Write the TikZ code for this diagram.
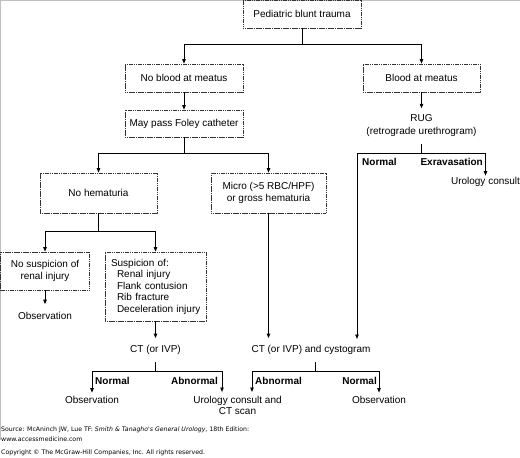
\documentclass[tikz,border=0pt]{standalone}
\usepackage{fontspec}
\setmainfont{Liberation Sans}
\newfontfamily\footfont{DejaVu Sans}
\usetikzlibrary{arrows.meta}
\begin{document}
\begin{tikzpicture}[x=1pt,y=-1pt,
  every node/.style={font=\fontsize{10}{11.5}\selectfont},
  box/.style={draw=black!80, dash pattern=on 1.3pt off 0.5pt, line width=0.7pt, inner sep=0pt, minimum height=28pt, align=center},
  plain/.style={inner xsep=1pt, align=center},
  lbl/.style={font=\fontsize{10}{11.5}\selectfont\bfseries, inner sep=0pt},
  conn/.style={draw=black, line width=0.9pt},
  arr/.style={conn, -{Triangle[length=4.5pt,width=3.5pt]}},
  foot/.style={font=\footfont\fontsize{6.2}{7}\selectfont, inner sep=0pt, anchor=west},
]
\useasboundingbox (0,0) rectangle (520,458);
\fill[white] (0,0) rectangle (520,458);
\draw[black!25, line width=1pt] (0,0.5) -- (520,0.5);
\draw[black!25, line width=1pt] (0.5,0) -- (0.5,440);

% boxes
\node[box, minimum width=118pt] (ped) at (302,14) {Pediatric blunt trauma};
\node[box, minimum width=118pt] (noblood) at (184,78) {No blood at meatus};
\node[box, minimum width=117pt] (blood) at (421.5,78) {Blood at meatus};
\node[box, minimum width=118pt, minimum height=27pt] (foley) at (184,123.5) {May pass Foley catheter};
\node[align=center, font=\fontsize{10}{13}\selectfont, minimum height=35pt, inner sep=0pt] (rug) at (421.5,126) {RUG\\(retrograde urethrogram)};
\node[box, minimum width=117pt, minimum height=40pt] (nohem) at (98.5,193) {No hematuria};
\node[box, minimum width=115pt, minimum height=40pt] (micro) at (268.5,193) {Micro (>5 RBC/HPF)\\or gross hematuria};
\node[plain, inner ysep=1.5pt] (uro1) at (485.5,182) {Urology consult};
\node[box, minimum width=89pt, minimum height=38pt] (nosusp) at (45,271) {No suspicion of\\renal injury};
\node[plain, inner ysep=8pt] (obs1) at (45,316) {Observation};
\node[box, minimum width=101pt, minimum height=69pt, text width=89pt, inner xsep=6pt, align=left] (susp) at (155.5,286.5)
  {\mbox{Suspicion of:}\\\mbox{\hspace*{6pt}Renal injury}\\\mbox{\hspace*{6pt}Flank contusion}\\\mbox{\hspace*{6pt}Rib fracture}\\\mbox{\hspace*{6pt}Deceleration injury}};
\node[plain, inner ysep=7pt] (ct1) at (155.5,350) {CT (or IVP)};
\node[plain, inner ysep=7pt] (ct2) at (311,350) {CT (or IVP) and cystogram};
\node[plain, inner ysep=3.5pt] (obs2) at (92,400) {Observation};
\node[plain, inner ysep=3pt] (uro2) at (237.5,405.5) {Urology consult and\\CT scan};
\node[plain, inner ysep=3.5pt] (obs3) at (379,400) {Observation};

% branch labels
\node[lbl, anchor=west] (n1) at (95,381) {Normal};
\node[lbl, anchor=east] (a1) at (218,381) {Abnormal};
\node[lbl, anchor=west] (a2) at (255,381) {Abnormal};
\node[lbl, anchor=east] (n2) at (377,381) {Normal};
\node[lbl, anchor=west] (n3) at (362,162) {Normal};
\node[lbl, anchor=east] (ex) at (483,162) {Exravasation};

% junctions
\coordinate (j0) at (302,44);
\coordinate (j1) at (184,153);
\coordinate (j2) at (421.5,153);
\coordinate (j3) at (98.5,231);
\coordinate (j4) at (155.5,371);
\coordinate (j5) at (315,371);
\coordinate (e1) at (222,392);
\coordinate (e2) at (252,392);
\coordinate (e3) at (357,339);

% connectors
\draw[conn] (ped.south) -- (j0);
\draw[arr] (j0) -| (noblood.north);
\draw[arr] (j0) -| (blood.north);
\draw[arr] (noblood) -- (foley);
\draw[arr] (blood) -- (rug);
\draw[conn] (foley) -- (j1);
\draw[arr] (j1) -| (nohem.north);
\draw[arr] (j1) -| (micro.north);
\draw[conn] (rug) -- (j2);
\draw[arr] (j2) -| (uro1.north);
\draw[arr] (j2) -| (e3);
\draw[conn] (nohem) -- (j3);
\draw[arr] (j3) -| (nosusp.north);
\draw[arr] (j3) -| (susp.north);
\draw[arr] (nosusp) -- (obs1);
\draw[arr] (susp) -- (ct1);
\draw[arr] (micro.south) -- (micro.south |- ct2.north);
\draw[conn] (ct1) -- (j4);
\draw[arr] (j4) -| (obs2.north);
\draw[arr] (j4) -| (e1);
\draw[conn] (j5 |- ct2.south) -- (j5);
\draw[arr] (j5) -| (e2);
\draw[arr] (j5) -| (obs3.north);

% footer
\node[foot] (src) at (1,430) {Source: McAninch JW, Lue TF: \textit{Smith \& Tanagho's General Urology}, 18th Edition:};
\node[foot] (www) at (1,439) {www.accessmedicine.com};
\node[foot] (copy) at (1,452.5) {Copyright © The McGraw-Hill Companies, Inc. All rights reserved.};
\end{tikzpicture}
\end{document}
